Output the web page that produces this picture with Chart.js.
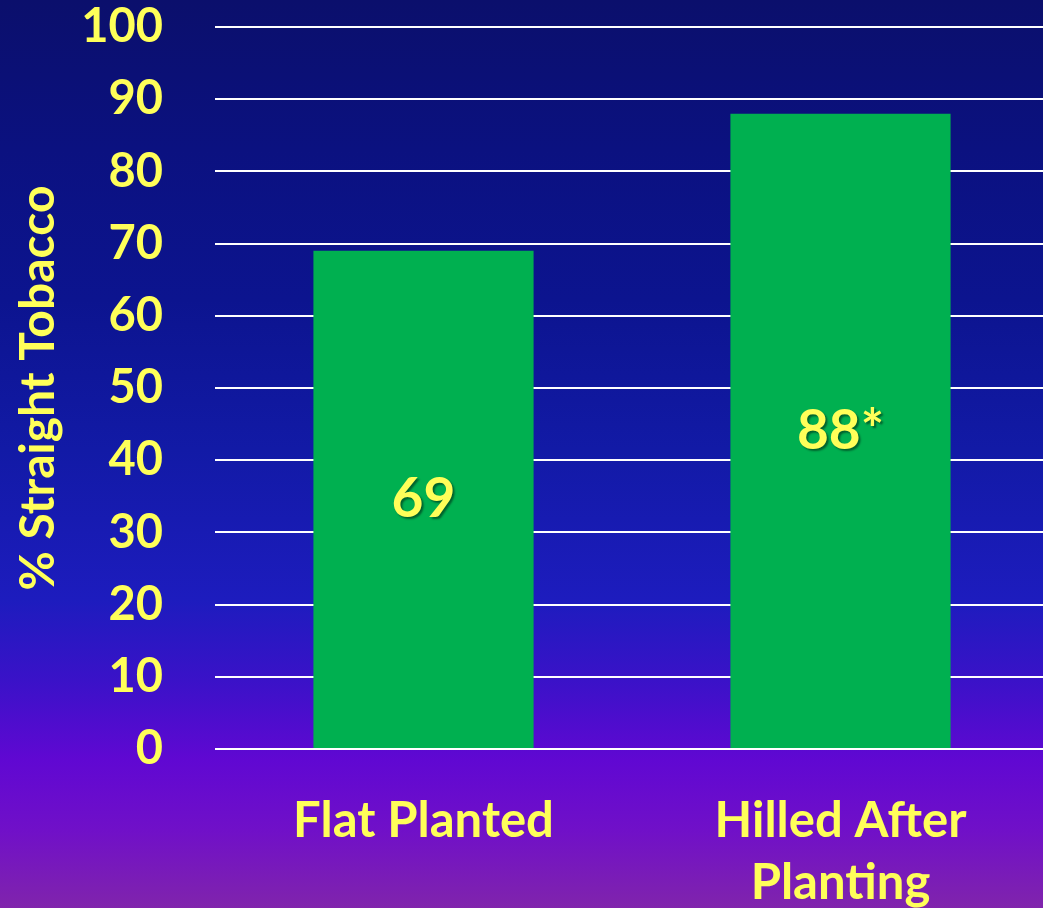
<!DOCTYPE html>
<html>
<head>
<meta charset="utf-8">
<script src="https://cdn.jsdelivr.net/npm/chart.js@4.4.0/dist/chart.umd.min.js"></script>
<style>
  html, body { margin: 0; padding: 0; }
  body {
    width: 1043px; height: 908px; overflow: hidden;
    background: linear-gradient(to bottom,
      #0b0f6c 0px, #0b1180 150px, #0c148f 300px, #121aa6 450px,
      #1d1cbe 600px, #3a12c8 680px, #6008d2 760px, #7010c8 830px, #8024ac 908px);
  }
  /* plot runs a little past the right edge, as in the slide */
  #wrap { position: relative; width: 1049px; height: 908px; }
</style>
</head>
<body>
<div id="wrap"><canvas id="chart"></canvas></div>
<script>
const categories = ['Flat Planted', ['Hilled After', 'Planting']];
const straightPct = [69, 88];
const valueLabels = ['69', '88*'];

const yellow = '#ffff59';
const font = 'Lato';

/* value labels drawn in the middle of each bar */
const barLabels = {
  id: 'barLabels',
  afterDatasetsDraw(chart) {
    const ctx = chart.ctx;
    const meta = chart.getDatasetMeta(0);
    ctx.save();
    ctx.font = 'bold 55px ' + font;
    ctx.textAlign = 'center';
    ctx.textBaseline = 'middle';
    ctx.fillStyle = yellow;
    ctx.shadowColor = 'rgba(0,0,0,0.45)';
    ctx.shadowOffsetX = 2;
    ctx.shadowOffsetY = 2;
    ctx.shadowBlur = 2;
    meta.data.forEach((bar, i) => {
      const mid = (bar.y + bar.base) / 2;
      ctx.fillText(valueLabels[i], bar.x, mid);
    });
    ctx.restore();
  }
};

new Chart(document.getElementById('chart'), {
  type: 'bar',
  data: {
    labels: categories,
    datasets: [{
      data: straightPct,
      backgroundColor: '#00b050',
      borderWidth: 0,
      barPercentage: 0.528,
      categoryPercentage: 1.0
    }]
  },
  options: {
    responsive: true,
    maintainAspectRatio: false,
    animation: false,
    layout: { padding: { top: 27, right: 0, bottom: 0, left: 0 } },
    plugins: {
      legend: { display: false },
      tooltip: { enabled: false }
    },
    scales: {
      x: {
        grid: { display: false },
        border: { display: false },
        ticks: {
          color: yellow,
          font: { family: font, size: 49, weight: 'bold', lineHeight: 1.27 },
          padding: 33,
          maxRotation: 0
        },
        afterFit(scale) { scale.height = 159; }
      },
      y: {
        min: 0,
        max: 100,
        ticks: {
          stepSize: 10,
          color: yellow,
          font: { family: font, size: 47, weight: 'bold' },
          padding: 52
        },
        grid: { color: '#ffffff', lineWidth: 2, drawTicks: false },
        border: { display: false },
        title: {
          display: true,
          text: '% Straight Tobacco',
          color: yellow,
          font: { family: font, size: 48, weight: 'bold' },
          padding: { top: 10, bottom: 0 }
        },
        afterFit(scale) {
          scale.width = 215;
          scale.paddingTop = 0;
          scale.paddingBottom = 0;
        }
      }
    }
  },
  plugins: [barLabels]
});
</script>
</body>
</html>
